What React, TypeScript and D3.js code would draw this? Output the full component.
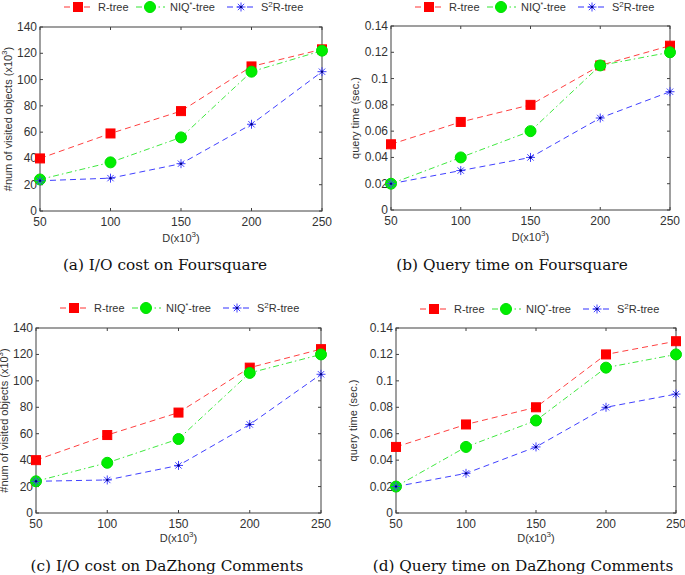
import React from "react";
import * as d3 from "d3";

const xValues = [50, 100, 150, 200, 250];
const xTicks = [50, 100, 150, 200, 250];
const seriesNames = ["R-tree", "NIQ*-tree", "S2R-tree"];

const ioFoursquareR = [40, 59, 76, 110, 123];
const ioFoursquareNIQ = [24, 37, 56, 106, 122];
const ioFoursquareS2 = [23, 25, 36, 66, 106];

const qtFoursquareR = [0.05, 0.067, 0.08, 0.11, 0.125];
const qtFoursquareNIQ = [0.02, 0.04, 0.06, 0.11, 0.12];
const qtFoursquareS2 = [0.02, 0.03, 0.04, 0.07, 0.09];

const ioDaZhongR = [40, 59, 76, 110, 124];
const ioDaZhongNIQ = [24, 38, 56, 106, 120];
const ioDaZhongS2 = [24, 25, 36, 67, 105];

const qtDaZhongR = [0.05, 0.067, 0.08, 0.12, 0.13];
const qtDaZhongNIQ = [0.02, 0.05, 0.07, 0.11, 0.12];
const qtDaZhongS2 = [0.02, 0.03, 0.05, 0.08, 0.09];

const ioTicks = [0, 20, 40, 60, 80, 100, 120, 140];
const qtTicks = [0, 0.02, 0.04, 0.06, 0.08, 0.1, 0.12, 0.14];
const qtTickLabels = ["0", "0.02", "0.04", "0.06", "0.08", "0.1", "0.12", "0.14"];

const captions = [
  "(a) I/O cost on Foursquare",
  "(b) Query time on Foursquare",
  "(c) I/O cost on DaZhong Comments",
  "(d) Query time on DaZhong Comments",
];

const colors = ["#ff0000", "#00e000", "#0000ff"];
const dashes = ["6,4", "6,3,1.5,3", "6,4"];
const sansFont = "'Liberation Sans', Arial, sans-serif";
const serifFont = "'DejaVu Serif', 'Liberation Serif', serif";

type PanelProps = {
  left: number;
  right: number;
  top: number;
  bottom: number;
  series: number[][];
  yTicks: number[];
  yTickLabels: string[];
  yMax: number;
  yLabel: React.ReactNode;
  yLabelX: number;
  caption: string;
  captionX: number;
  legendY: number;
  xLabelY: number;
  captionY: number;
};

function Marker({ i, x, y }: { i: number; x: number; y: number }) {
  if (i === 0) {
    return <rect x={x - 4.5} y={y - 4.5} width={9} height={9} fill="#ff0000" stroke="#ff0000" />;
  }
  if (i === 1) {
    return <circle cx={x} cy={y} r={5.5} fill="#00ee00" stroke="#00dd00" />;
  }
  const r = 4.5;
  const d = [0, 45, 90, 135]
    .map((a) => {
      const rad = (a * Math.PI) / 180;
      const dx = r * Math.cos(rad);
      const dy = r * Math.sin(rad);
      return `M${x - dx},${y - dy}L${x + dx},${y + dy}`;
    })
    .join("");
  return (
    <g>
      <path d={d} stroke="#4040ff" strokeWidth={1} fill="none" />
      <circle cx={x} cy={y} r={1.2} fill="#000080" />
    </g>
  );
}

function Panel(p: PanelProps) {
  const x = d3.scaleLinear().domain([50, 250]).range([p.left, p.right]);
  const y = d3.scaleLinear().domain([0, p.yMax]).range([p.bottom, p.top]);
  const line = d3
    .line<number>()
    .x((_, i) => x(xValues[i]))
    .y((d) => y(d));
  const axisColor = "#404040";
  const tickLen = 3;
  const legendOffsets = [24, 96, 187];
  return (
    <g>
      {seriesNames.map((name, i) => {
        const lx = p.left + legendOffsets[i];
        return (
          <g key={name}>
            <line x1={lx} x2={lx + 29} y1={p.legendY} y2={p.legendY} stroke={colors[i]} strokeDasharray={dashes[i]} strokeWidth={1} opacity={0.8} />
            <Marker i={i} x={lx + 14} y={p.legendY} />
            <text x={lx + 34} y={p.legendY + 4} fontFamily={sansFont} fontSize={11} fill="#333">
              {i === 0 && "R-tree"}
              {i === 1 && (
                <>
                  NIQ<tspan dy={-4} fontSize={7}>*</tspan>
                  <tspan dy={4}>-tree</tspan>
                </>
              )}
              {i === 2 && (
                <>
                  S<tspan dy={-4} fontSize={8}>2</tspan>
                  <tspan dy={4}>R-tree</tspan>
                </>
              )}
            </text>
          </g>
        );
      })}
      <rect x={p.left} y={p.top} width={p.right - p.left} height={p.bottom - p.top} fill="none" stroke={axisColor} strokeWidth={1} />
      {xTicks.map((t) => (
        <g key={"x" + t}>
          <line x1={x(t)} x2={x(t)} y1={p.bottom} y2={p.bottom - tickLen} stroke={axisColor} />
          <line x1={x(t)} x2={x(t)} y1={p.top} y2={p.top + tickLen} stroke={axisColor} />
          <text x={x(t)} y={p.bottom + 15} textAnchor="middle" fontFamily={sansFont} fontSize={12} fill="#333">
            {t}
          </text>
        </g>
      ))}
      {p.yTicks.map((t, k) => (
        <g key={"y" + t}>
          <line x1={p.left} x2={p.left + tickLen} y1={y(t)} y2={y(t)} stroke={axisColor} />
          <line x1={p.right} x2={p.right - tickLen} y1={y(t)} y2={y(t)} stroke={axisColor} />
          <text x={p.left - 3} y={y(t) + 4} textAnchor="end" fontFamily={sansFont} fontSize={12} fill="#333">
            {p.yTickLabels[k]}
          </text>
        </g>
      ))}
      {p.series.map((s, i) => (
        <path key={"l" + i} d={line(s) || ""} fill="none" stroke={colors[i]} strokeDasharray={dashes[i]} strokeWidth={1} opacity={0.75} />
      ))}
      {p.series.map((s, i) => (
        <g key={"m" + i}>
          {s.map((v, j) => (
            <Marker key={j} i={i} x={x(xValues[j])} y={y(v)} />
          ))}
        </g>
      ))}
      <text x={(p.left + p.right) / 2} y={p.xLabelY} textAnchor="middle" fontFamily={sansFont} fontSize={11} fill="#333">
        D(x10<tspan dy={-5} fontSize={8}>3</tspan>
        <tspan dy={5}>)</tspan>
      </text>
      <text
        transform={`translate(${p.yLabelX},${(p.top + p.bottom) / 2}) rotate(-90)`}
        textAnchor="middle"
        fontFamily={sansFont}
        fontSize={11}
        fill="#333"
      >
        {p.yLabel}
      </text>
      <text x={p.captionX} y={p.captionY} textAnchor="middle" fontFamily={serifFont} fontSize={15.3} fill="#111">
        {p.caption}
      </text>
    </g>
  );
}

const ioLabel = (
  <>
    #num of visited objects (x10<tspan dy={-5} fontSize={8}>3</tspan>
    <tspan dy={5}>)</tspan>
  </>
);
const qtLabel = <>query time (sec.)</>;
const ioTickLabels = ioTicks.map((t) => String(t));

export default function App() {
  return (
    <svg width={685} height={575} style={{ position: "absolute", left: 0, top: 0, background: "#fff" }}>
      <Panel
        left={40}
        right={322}
        top={27}
        bottom={211}
        series={[ioFoursquareR, ioFoursquareNIQ, ioFoursquareS2]}
        yTicks={ioTicks}
        yTickLabels={ioTickLabels}
        yMax={140}
        yLabel={ioLabel}
        yLabelX={12}
        caption={captions[0]}
        captionX={165}
        legendY={7}
        xLabelY={242}
        captionY={270}
      />
      <Panel
        left={391}
        right={670}
        top={26}
        bottom={210}
        series={[qtFoursquareR, qtFoursquareNIQ, qtFoursquareS2]}
        yTicks={qtTicks}
        yTickLabels={qtTickLabels}
        yMax={0.14}
        yLabel={qtLabel}
        yLabelX={359}
        caption={captions[1]}
        captionX={512}
        legendY={7}
        xLabelY={241}
        captionY={270}
      />
      <Panel
        left={36}
        right={321}
        top={328}
        bottom={513}
        series={[ioDaZhongR, ioDaZhongNIQ, ioDaZhongS2]}
        yTicks={ioTicks}
        yTickLabels={ioTickLabels}
        yMax={140}
        yLabel={ioLabel}
        yLabelX={8}
        caption={captions[2]}
        captionX={167}
        legendY={308}
        xLabelY={542}
        captionY={571}
      />
      <Panel
        left={396}
        right={676}
        top={328}
        bottom={513}
        series={[qtDaZhongR, qtDaZhongNIQ, qtDaZhongS2]}
        yTicks={qtTicks}
        yTickLabels={qtTickLabels}
        yMax={0.14}
        yLabel={qtLabel}
        yLabelX={357}
        caption={captions[3]}
        captionX={523}
        legendY={309}
        xLabelY={542}
        captionY={571}
      />
    </svg>
  );
}
